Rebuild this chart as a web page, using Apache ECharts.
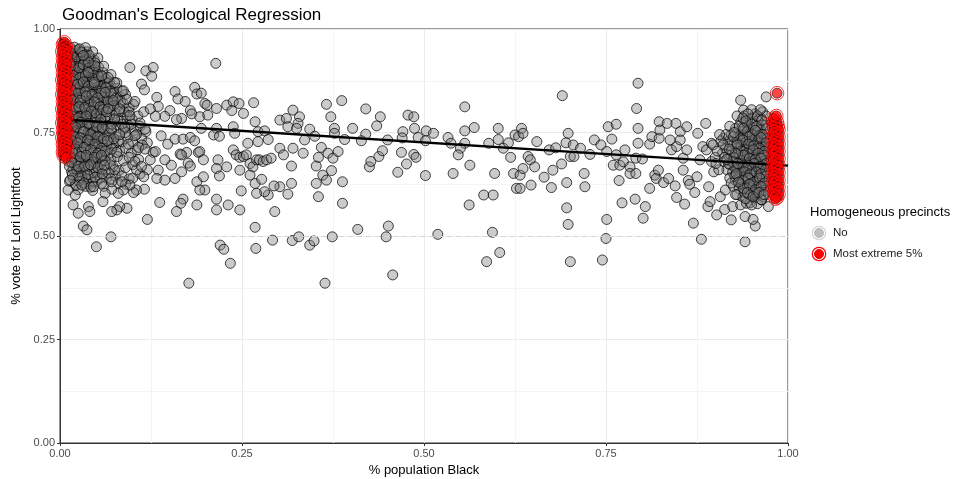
<!DOCTYPE html>
<html>
<head>
<meta charset="utf-8">
<title>Goodman's Ecological Regression</title>
<script src="https://cdn.jsdelivr.net/npm/echarts@6/dist/echarts.min.js"></script>
<style>
  html, body { margin: 0; padding: 0; background: #fff; }
  #chart { width: 958px; height: 479px; }
</style>
</head>
<body>
<div id="chart"></div>
<script>
// precincts, [share Black, vote share Lightfoot]
const leftCluster = [
  [0.014,0.955],[0.02,0.948],[0.026,0.94],[0.012,0.935],[0.018,0.93],[0.031,0.932],[0.037,0.945],[0.042,0.928],[0.024,0.922],
  [0.013,0.915],[0.021,0.91],[0.029,0.918],[0.035,0.905],[0.044,0.912],[0.051,0.9],[0.016,0.902],[0.027,0.898],[0.039,0.893],
  [0.012,0.888],[0.019,0.882],[0.025,0.876],[0.033,0.884],[0.041,0.872],[0.048,0.882],[0.055,0.874],[0.062,0.868],[0.015,0.87],[0.029,0.864],[0.037,0.858],[0.07,0.862],[0.078,0.857],
  [0.011,0.855],[0.018,0.848],[0.023,0.858],[0.031,0.843],[0.045,0.85],[0.052,0.842],[0.058,0.855],[0.066,0.84],[0.074,0.845],[0.082,0.836],[0.09,0.842],[0.014,0.838],[0.026,0.835],[0.039,0.832],
  [0.012,0.825],[0.019,0.818],[0.024,0.828],[0.033,0.815],[0.043,0.822],[0.049,0.812],[0.056,0.826],[0.063,0.816],[0.071,0.822],[0.079,0.812],[0.087,0.82],[0.095,0.81],[0.101,0.818],[0.016,0.808],[0.028,0.805],[0.038,0.8],[0.047,0.795],
  [0.011,0.795],[0.021,0.79],[0.031,0.785],[0.054,0.79],[0.061,0.8],[0.068,0.788],[0.076,0.796],[0.084,0.785],[0.092,0.792],[0.099,0.782],[0.107,0.79],[0.115,0.8],[0.014,0.778],[0.026,0.772],[0.036,0.778],[0.044,0.768],[0.058,0.775],
  [0.012,0.762],[0.019,0.755],[0.029,0.76],[0.039,0.752],[0.05,0.758],[0.064,0.765],[0.071,0.754],[0.079,0.768],[0.087,0.758],[0.094,0.766],[0.102,0.755],[0.11,0.765],[0.118,0.752],[0.015,0.745],[0.024,0.74],[0.034,0.735],[0.045,0.742],[0.056,0.738],
  [0.062,0.745],[0.069,0.732],[0.077,0.74],[0.085,0.728],[0.093,0.738],[0.1,0.728],[0.112,0.735],[0.12,0.725],[0.011,0.728],[0.019,0.72],[0.028,0.715],[0.038,0.722],[0.048,0.712],[0.058,0.72],
  [0.066,0.71],[0.074,0.718],[0.082,0.705],[0.09,0.712],[0.098,0.7],[0.106,0.708],[0.013,0.705],[0.022,0.698],[0.031,0.69],[0.041,0.698],[0.052,0.688],[0.061,0.695],[0.07,0.685],[0.079,0.692],[0.087,0.682],[0.095,0.69],
  [0.012,0.68],[0.02,0.672],[0.029,0.665],[0.037,0.675],[0.046,0.665],[0.055,0.672],[0.063,0.66],[0.073,0.668],[0.081,0.658],[0.09,0.665],[0.1,0.672],[0.016,0.655],[0.025,0.648],[0.034,0.652],[0.043,0.642],[0.053,0.648],[0.064,0.64],[0.076,0.645],
  [0.013,0.632],[0.021,0.625],[0.032,0.635],[0.04,0.625],[0.05,0.632],[0.06,0.62],[0.085,0.645],[0.095,0.638],[0.11,0.65],[0.12,0.66],
  [0.016,0.925],[0.022,0.915],[0.033,0.922],[0.017,0.895],[0.024,0.888],[0.034,0.895],[0.043,0.887],[0.02,0.865],[0.028,0.852],[0.036,0.868],[0.044,0.86],[0.05,0.866],
  [0.021,0.836],[0.034,0.828],[0.042,0.84],[0.05,0.83],[0.058,0.838],[0.017,0.815],[0.029,0.822],[0.04,0.81],[0.052,0.803],[0.023,0.8],[0.033,0.795],[0.045,0.783],
  [0.02,0.77],[0.031,0.768],[0.041,0.762],[0.053,0.77],[0.062,0.78],[0.017,0.752],[0.026,0.748],[0.037,0.742],[0.047,0.73],[0.055,0.752],[0.021,0.732],[0.032,0.726],
  [0.043,0.735],[0.053,0.725],[0.017,0.712],[0.026,0.705],[0.036,0.708],[0.046,0.702],[0.056,0.705],[0.023,0.685],[0.034,0.68],[0.044,0.685],[0.058,0.68],
  [0.018,0.662],[0.029,0.655],[0.04,0.66],[0.05,0.655],[0.068,0.7],[0.072,0.725],[0.066,0.76],[0.075,0.78],[0.068,0.81],[0.06,0.85],[0.052,0.89],[0.045,0.9],
  [0.038,0.915],[0.03,0.935],[0.085,0.77],[0.08,0.73],[0.09,0.75],[0.088,0.8],[0.083,0.825],[0.072,0.835],[0.065,0.87],[0.058,0.885],
  [0.013,0.945],[0.019,0.938],[0.025,0.95],[0.029,0.928],[0.035,0.938],[0.041,0.918],[0.047,0.925],[0.014,0.918],[0.02,0.902],[0.031,0.908],
  [0.038,0.9],[0.046,0.895],[0.053,0.908],[0.059,0.895],[0.013,0.896],[0.022,0.878],[0.03,0.89],[0.036,0.876],[0.043,0.868],[0.049,0.875],
  [0.056,0.862],[0.063,0.88],[0.068,0.872],[0.014,0.862],[0.021,0.854],[0.027,0.868],[0.033,0.856],[0.04,0.848],[0.047,0.838],[0.054,0.85],
  [0.061,0.835],[0.069,0.85],[0.076,0.832],[0.013,0.842],[0.019,0.83],[0.026,0.822],[0.032,0.835],[0.038,0.82],[0.045,0.812],[0.053,0.818],
  [0.06,0.81],[0.066,0.825],[0.074,0.815],[0.081,0.8],[0.015,0.8],[0.022,0.81],[0.028,0.79],[0.035,0.805],[0.042,0.793],[0.049,0.785],
  [0.057,0.796],[0.064,0.79],[0.071,0.77],[0.079,0.78],[0.013,0.785],[0.018,0.766],[0.024,0.778],[0.033,0.758],[0.038,0.77],[0.046,0.752],
  [0.052,0.762],[0.06,0.758],[0.067,0.748],[0.074,0.735],[0.082,0.745],[0.013,0.748],[0.02,0.738],[0.027,0.73],[0.036,0.718],[0.041,0.728],
  [0.049,0.738],[0.057,0.73],[0.064,0.72],[0.071,0.71],[0.078,0.702],[0.014,0.722],[0.022,0.71],[0.03,0.702],[0.038,0.69],[0.045,0.678],
  [0.05,0.695],[0.056,0.69],[0.062,0.682],[0.069,0.672],[0.075,0.66],[0.014,0.69],[0.021,0.682],[0.027,0.675],[0.032,0.665],[0.039,0.668],
  [0.047,0.652],[0.058,0.66],[0.067,0.652],[0.013,0.668],[0.023,0.66],[0.03,0.645],[0.036,0.638],[0.045,0.63],[0.055,0.64],[0.07,0.638],
  [0.08,0.628],[0.018,0.64],[0.026,0.632],[0.035,0.62],[0.025,0.612],[0.045,0.61],[0.09,0.625],[0.1,0.64],[0.105,0.66],[0.108,0.685],
  [0.113,0.72],[0.105,0.745],[0.098,0.77],[0.095,0.8],[0.092,0.83],[0.085,0.85],[0.078,0.87],[0.07,0.89],[0.06,0.91],[0.052,0.93],
  [0.045,0.945],[0.035,0.955],
  [0.016,0.94],[0.023,0.933],[0.028,0.945],[0.034,0.926],[0.04,0.936],[0.015,0.91],[0.026,0.906],[0.032,0.914],[0.04,0.906],[0.048,0.918],
  [0.018,0.888],[0.027,0.882],[0.035,0.888],[0.045,0.88],[0.053,0.885],[0.017,0.874],[0.024,0.866],[0.032,0.872],[0.039,0.862],[0.047,0.866],
  [0.056,0.845],[0.016,0.852],[0.025,0.845],[0.035,0.848],[0.044,0.842],[0.052,0.834],[0.017,0.828],[0.028,0.828],[0.036,0.838],[0.047,0.824],
  [0.055,0.812],[0.018,0.805],[0.026,0.812],[0.034,0.81],[0.043,0.802],[0.05,0.795],[0.059,0.805],[0.017,0.79],[0.025,0.785],[0.036,0.79],
  [0.048,0.775],[0.056,0.782],[0.016,0.772],[0.029,0.775],[0.04,0.772],[0.05,0.765],[0.058,0.762],[0.022,0.762],[0.032,0.752],[0.042,0.745],
  [0.052,0.74],[0.06,0.735],[0.018,0.742],[0.028,0.737],[0.038,0.732],[0.048,0.722],[0.057,0.712],[0.016,0.73],[0.024,0.725],[0.033,0.714],
  [0.042,0.708],[0.052,0.7],[0.062,0.705],[0.018,0.7],[0.028,0.692],[0.036,0.695],[0.047,0.69],[0.057,0.695],[0.016,0.678],[0.025,0.668],
  [0.034,0.668],[0.042,0.672],[0.052,0.665],[0.061,0.67],[0.017,0.648],[0.027,0.64],[0.038,0.648],[0.048,0.642],[0.058,0.65],[0.022,0.622],
  [0.033,0.628],[0.042,0.618],[0.065,0.73],[0.07,0.76],[0.064,0.8],[0.07,0.845],[0.063,0.858]
];

const midPoints = [
  // 0.1 - 0.2
  [0.096,0.907],[0.118,0.899],[0.128,0.907],[0.126,0.886],[0.112,0.867],[0.116,0.853],[0.103,0.825],[0.133,0.835],[0.135,0.813],[0.151,0.803],
  [0.158,0.849],[0.162,0.831],[0.172,0.825],[0.185,0.859],[0.188,0.843],[0.179,0.803],[0.181,0.795],[0.167,0.784],[0.160,0.781],[0.144,0.789],
  [0.131,0.789],[0.124,0.807],[0.139,0.742],[0.148,0.722],[0.158,0.734],[0.169,0.734],[0.179,0.738],[0.185,0.730],[0.165,0.698],[0.174,0.702],
  [0.190,0.702],[0.117,0.758],[0.110,0.773],[0.103,0.742],[0.094,0.722],[0.108,0.714],[0.117,0.710],[0.128,0.702],[0.089,0.763],[0.082,0.807],
  [0.075,0.783],[0.096,0.791],[0.087,0.851],[0.075,0.871],[0.066,0.883],[0.057,0.887],[0.048,0.911],[0.039,0.920],[0.030,0.944],[0.020,0.956],
  [0.027,0.952],[0.032,0.936],[0.039,0.895],[0.047,0.871],[0.062,0.847],[0.073,0.827],[0.066,0.807],
  [0.167,0.696],[0.176,0.676],[0.179,0.669],[0.167,0.655],[0.158,0.639],[0.153,0.671],[0.144,0.684],[0.135,0.659],[0.133,0.639],[0.144,0.635],
  [0.188,0.631],[0.188,0.575],[0.169,0.589],[0.166,0.579],[0.160,0.559],[0.137,0.581],[0.120,0.540],[0.116,0.613],[0.105,0.611],[0.101,0.605],
  [0.096,0.623],[0.087,0.611],[0.080,0.603],[0.071,0.613],[0.062,0.603],[0.092,0.567],[0.082,0.571],[0.078,0.563],[0.071,0.559],[0.039,0.571],
  [0.041,0.559],[0.018,0.575],[0.025,0.555],[0.032,0.524],[0.037,0.515],[0.050,0.474],[0.070,0.498],[0.177,0.386],[0.059,0.583],[0.011,0.611],
  [0.021,0.599],[0.103,0.680],[0.112,0.668],[0.115,0.643],[0.085,0.631],[0.071,0.631],[0.057,0.627],[0.046,0.619],[0.030,0.623],[0.014,0.635],
  [0.131,0.704],[0.124,0.684],
  // 0.19 - 0.6
  [0.214,0.917],[0.194,0.845],[0.199,0.820],[0.202,0.816],[0.215,0.808],[0.229,0.816],[0.238,0.824],[0.246,0.820],[0.236,0.803],[0.252,0.796],
  [0.266,0.822],[0.192,0.788],[0.203,0.792],[0.194,0.760],[0.215,0.760],[0.211,0.744],[0.219,0.741],[0.238,0.764],[0.240,0.748],[0.268,0.776],
  [0.272,0.752],[0.281,0.754],[0.286,0.733],[0.302,0.780],[0.311,0.784],[0.320,0.804],[0.329,0.788],[0.327,0.772],[0.313,0.764],[0.325,0.760],
  [0.343,0.758],[0.336,0.732],[0.350,0.741],[0.366,0.818],[0.387,0.827],[0.372,0.788],[0.377,0.760],[0.377,0.748],[0.391,0.733],[0.402,0.760],
  [0.420,0.807],[0.420,0.746],[0.414,0.730],[0.435,0.766],[0.440,0.788],[0.450,0.732],[0.471,0.752],[0.470,0.737],[0.478,0.792],[0.486,0.788],
  [0.487,0.760],[0.492,0.738],[0.503,0.754],[0.513,0.748],[0.502,0.730],[0.533,0.738],[0.537,0.724],[0.556,0.812],[0.569,0.762],[0.556,0.754],
  [0.556,0.724],[0.550,0.712],[0.547,0.696],[0.589,0.724],[0.602,0.760],[0.602,0.733],[0.192,0.704],[0.197,0.684],[0.217,0.684],[0.215,0.663],
  [0.229,0.667],[0.219,0.645],[0.238,0.708],[0.242,0.696],[0.247,0.690],[0.252,0.692],[0.256,0.696],[0.261,0.675],[0.265,0.667],[0.270,0.684],
  [0.274,0.684],[0.279,0.680],[0.284,0.684],[0.290,0.688],[0.258,0.724],[0.272,0.728],[0.302,0.712],[0.307,0.696],[0.320,0.712],[0.318,0.669],
  [0.334,0.700],[0.352,0.669],[0.355,0.690],[0.359,0.714],[0.368,0.700],[0.375,0.688],[0.382,0.704],[0.361,0.647],[0.366,0.635],[0.373,0.658],
  [0.388,0.631],[0.352,0.627],[0.355,0.595],[0.318,0.627],[0.313,0.601],[0.302,0.619],[0.294,0.621],[0.286,0.599],[0.281,0.607],[0.270,0.603],
  [0.268,0.627],[0.277,0.637],[0.261,0.647],[0.247,0.659],[0.249,0.609],[0.215,0.563],[0.215,0.589],[0.199,0.611],[0.192,0.611],[0.197,0.643],
  [0.231,0.575],[0.247,0.563],[0.295,0.559],[0.268,0.521],[0.269,0.470],[0.292,0.490],[0.319,0.489],[0.328,0.498],[0.343,0.478],[0.349,0.488],
  [0.374,0.498],[0.388,0.579],[0.409,0.516],[0.451,0.524],[0.448,0.498],[0.457,0.406],[0.364,0.386],[0.220,0.478],[0.225,0.468],[0.234,0.434],
  [0.425,0.667],[0.427,0.680],[0.438,0.692],[0.443,0.706],[0.464,0.654],[0.469,0.702],[0.476,0.674],[0.486,0.697],[0.489,0.690],[0.502,0.646],
  [0.519,0.504],[0.540,0.651],[0.563,0.671],[0.562,0.575],[0.582,0.599],[0.595,0.599],[0.594,0.509],[0.586,0.438],[0.604,0.460],[0.597,0.651],
  // 0.6 - 0.95
  [0.609,0.712],[0.616,0.725],[0.619,0.690],[0.623,0.651],[0.627,0.615],[0.632,0.615],[0.632,0.647],[0.636,0.663],[0.643,0.692],[0.646,0.684],
  [0.652,0.667],[0.625,0.744],[0.630,0.740],[0.634,0.760],[0.636,0.748],[0.647,0.623],[0.655,0.728],[0.665,0.642],[0.672,0.708],[0.675,0.617],
  [0.677,0.659],[0.681,0.713],[0.690,0.839],[0.698,0.748],[0.695,0.725],[0.689,0.674],[0.696,0.629],[0.701,0.692],[0.706,0.692],[0.705,0.720],
  [0.715,0.712],[0.721,0.619],[0.720,0.651],[0.728,0.697],[0.734,0.732],[0.743,0.720],[0.751,0.704],[0.753,0.764],[0.758,0.734],[0.764,0.770],
  [0.764,0.696],[0.760,0.671],[0.769,0.671],[0.768,0.634],[0.774,0.679],[0.776,0.708],[0.783,0.667],[0.783,0.651],[0.791,0.651],[0.791,0.688],
  [0.800,0.686],[0.794,0.869],[0.792,0.808],[0.794,0.760],[0.794,0.724],[0.790,0.589],[0.772,0.580],[0.804,0.571],[0.801,0.543],[0.810,0.615],
  [0.810,0.722],[0.813,0.740],[0.817,0.647],[0.819,0.639],[0.822,0.659],[0.823,0.776],[0.823,0.736],[0.824,0.756],[0.829,0.629],[0.834,0.772],
  [0.836,0.639],[0.838,0.732],[0.840,0.708],[0.845,0.621],[0.846,0.772],[0.847,0.716],[0.847,0.593],[0.852,0.752],[0.852,0.732],[0.856,0.688],
  [0.856,0.659],[0.858,0.577],[0.861,0.764],[0.861,0.708],[0.863,0.634],[0.865,0.625],[0.870,0.531],[0.872,0.605],[0.875,0.643],[0.876,0.748],
  [0.879,0.684],[0.881,0.492],[0.883,0.716],[0.887,0.772],[0.888,0.708],[0.890,0.571],[0.891,0.619],[0.893,0.583],[0.895,0.680],[0.895,0.724],
  [0.898,0.655],[0.902,0.551],[0.907,0.595],[0.911,0.736],[0.914,0.611],[0.913,0.564],[0.922,0.539],[0.924,0.571],[0.935,0.828],[0.939,0.804],
  [0.941,0.486],[0.941,0.547],[0.696,0.568],[0.698,0.528],[0.701,0.438],[0.745,0.442],[0.750,0.494],[0.751,0.540]
];

const rightCluster = [
  [0.94,0.79],[0.948,0.782],[0.955,0.795],[0.962,0.786],[0.935,0.775],[0.944,0.768],[0.952,0.772],[0.96,0.766],[0.968,0.775],[0.928,0.76],
  [0.938,0.752],[0.946,0.758],[0.954,0.748],[0.962,0.755],[0.97,0.745],[0.922,0.745],[0.931,0.738],[0.94,0.742],[0.949,0.735],[0.957,0.74],
  [0.965,0.732],[0.918,0.728],[0.926,0.722],[0.935,0.728],[0.944,0.72],[0.952,0.725],[0.96,0.718],[0.968,0.722],[0.914,0.712],[0.922,0.705],
  [0.93,0.712],[0.939,0.704],[0.947,0.71],[0.955,0.702],[0.963,0.708],[0.971,0.7],[0.918,0.695],[0.926,0.688],[0.934,0.694],[0.942,0.686],
  [0.95,0.692],[0.958,0.685],[0.966,0.69],[0.912,0.68],[0.92,0.672],[0.929,0.678],[0.937,0.67],[0.945,0.676],[0.953,0.668],[0.961,0.674],
  [0.969,0.666],[0.916,0.66],[0.924,0.654],[0.933,0.66],[0.941,0.652],[0.949,0.658],[0.957,0.65],[0.965,0.656],[0.92,0.64],[0.928,0.634],
  [0.937,0.64],[0.945,0.632],[0.953,0.638],[0.961,0.63],[0.969,0.636],[0.925,0.62],[0.933,0.614],[0.941,0.62],[0.949,0.612],[0.957,0.618],
  [0.965,0.61],[0.93,0.6],[0.938,0.594],[0.946,0.6],[0.954,0.592],[0.962,0.598],[0.948,0.58],[0.958,0.578],
  [0.945,0.745],[0.953,0.76],[0.96,0.742],[0.942,0.73],[0.95,0.715],[0.958,0.73],[0.966,0.715],[0.94,0.715],[0.948,0.698],[0.956,0.715],
  [0.964,0.698],[0.943,0.695],[0.951,0.68],[0.96,0.695],[0.967,0.68],[0.94,0.68],[0.948,0.665],[0.956,0.678],[0.964,0.662],[0.944,0.66],
  [0.952,0.645],[0.96,0.662],[0.967,0.645],[0.941,0.645],[0.949,0.628],[0.958,0.645],[0.965,0.625],[0.945,0.615],[0.953,0.605],[0.962,0.615],
  [0.935,0.685],[0.933,0.7],[0.93,0.66],[0.935,0.745],[0.925,0.69],[0.91,0.7],[0.908,0.73],[0.905,0.66],[0.9,0.69],[0.897,0.72],
  [0.915,0.745],[0.92,0.765],[0.93,0.79],[0.95,0.805],[0.965,0.8],[0.97,0.79],[0.972,0.76],[0.973,0.73],[0.972,0.71],[0.972,0.68],
  [0.972,0.65],[0.97,0.62],[0.966,0.595],[0.935,0.575],[0.928,0.6],
  [0.970,0.836],[0.955,0.524],[0.952,0.540],[0.973,0.571],[0.964,0.587],[0.943,0.579],[0.950,0.575],
  [0.943,0.775],[0.951,0.785],[0.958,0.778],[0.965,0.768],[0.937,0.762],[0.944,0.752],[0.951,0.745],[0.958,0.752],[0.965,0.745],[0.971,0.735],
  [0.934,0.735],[0.941,0.725],[0.948,0.728],[0.955,0.735],[0.962,0.725],[0.969,0.715],[0.936,0.718],[0.943,0.708],[0.951,0.7],[0.959,0.708],
  [0.966,0.7],[0.938,0.69],[0.945,0.682],[0.953,0.69],[0.961,0.682],[0.968,0.69],[0.936,0.675],[0.943,0.668],[0.951,0.662],[0.959,0.668],
  [0.966,0.672],[0.934,0.648],[0.942,0.638],[0.95,0.648],[0.958,0.635],[0.965,0.64],[0.971,0.655],[0.936,0.625],[0.944,0.622],[0.952,0.62],
  [0.96,0.622],[0.968,0.61],[0.94,0.605],[0.948,0.598],[0.957,0.603],[0.963,0.588],[0.942,0.59],[0.924,0.68],[0.927,0.665],[0.921,0.718],
  [0.93,0.725],[0.925,0.74],[0.933,0.765],[0.927,0.645],[0.922,0.628],[0.918,0.675],[0.913,0.69],[0.911,0.72],[0.906,0.745],[0.903,0.705],
  [0.901,0.675],[0.958,0.79],[0.945,0.795],[0.938,0.785],[0.962,0.805],
  [0.942,0.778],[0.95,0.77],[0.957,0.765],[0.964,0.78],[0.939,0.76],[0.947,0.74],[0.955,0.755],[0.963,0.738],[0.97,0.725],[0.938,0.732],
  [0.946,0.722],[0.953,0.718],[0.961,0.712],[0.968,0.705],[0.936,0.705],[0.944,0.7],[0.952,0.708],[0.959,0.7],[0.967,0.695],[0.939,0.695],
  [0.947,0.688],[0.955,0.684],[0.963,0.688],[0.97,0.675],[0.938,0.665],[0.946,0.67],[0.954,0.675],[0.962,0.668],[0.969,0.66],[0.94,0.655],
  [0.948,0.65],[0.956,0.655],[0.963,0.65],[0.97,0.645],[0.937,0.635],[0.945,0.64],[0.953,0.63],[0.961,0.64],[0.968,0.628],[0.939,0.615],
  [0.947,0.625],[0.955,0.612],[0.963,0.62],[0.944,0.605],[0.952,0.595],[0.96,0.605],[0.967,0.6],[0.93,0.72],[0.928,0.7],[0.931,0.675],
  [0.929,0.65],[0.932,0.63],[0.926,0.75],[0.919,0.71],[0.916,0.685]
];

// most extreme 5% homogeneous precincts
const extremeLeft = [
  [0.006,0.968],[0.004,0.963],[0.008,0.959],[0.005,0.955],[0.009,0.95],[0.003,0.946],[0.007,0.942],[0.005,0.937],[0.01,0.933],[0.004,0.929],
  [0.007,0.924],[0.005,0.92],[0.009,0.916],[0.003,0.911],[0.007,0.907],[0.005,0.903],[0.01,0.898],[0.004,0.894],[0.008,0.89],[0.005,0.885],
  [0.009,0.881],[0.003,0.877],[0.007,0.872],[0.005,0.868],[0.01,0.864],[0.004,0.859],[0.008,0.855],[0.005,0.851],[0.009,0.846],[0.003,0.842],
  [0.007,0.838],[0.005,0.833],[0.01,0.829],[0.004,0.825],[0.008,0.82],[0.005,0.816],[0.009,0.812],[0.003,0.807],[0.007,0.803],[0.005,0.799],
  [0.01,0.794],[0.004,0.79],[0.008,0.786],[0.005,0.781],[0.009,0.777],[0.003,0.773],[0.007,0.768],[0.005,0.764],[0.01,0.76],[0.004,0.755],
  [0.008,0.751],[0.005,0.747],[0.009,0.742],[0.003,0.738],[0.007,0.734],[0.005,0.729],[0.01,0.725],[0.004,0.721],[0.008,0.716],[0.005,0.712],
  [0.009,0.708],[0.004,0.703],[0.007,0.699],[0.005,0.694],[0.008,0.69]
];
const extremeRight = [
  [0.982,0.778],[0.985,0.774],[0.98,0.77],[0.986,0.765],[0.981,0.761],[0.987,0.757],[0.98,0.752],[0.985,0.748],[0.982,0.744],[0.987,0.739],
  [0.98,0.735],[0.985,0.731],[0.982,0.726],[0.987,0.722],[0.98,0.718],[0.985,0.713],[0.982,0.709],[0.987,0.705],[0.98,0.7],[0.985,0.696],
  [0.982,0.692],[0.987,0.687],[0.98,0.683],[0.985,0.679],[0.982,0.674],[0.987,0.67],[0.98,0.666],[0.985,0.661],[0.982,0.657],[0.987,0.653],
  [0.98,0.648],[0.985,0.644],[0.982,0.64],[0.987,0.635],[0.98,0.631],[0.985,0.627],[0.982,0.622],[0.987,0.618],[0.98,0.614],[0.985,0.609],
  [0.982,0.605],[0.987,0.601],[0.981,0.597],[0.985,0.593],[0.983,0.59],[0.985,0.845],[0.98,0.784],[0.984,0.79]
];

// fitted regression line
const fitLine = [[0, 0.782], [1, 0.67]];
const refLevel = 0.5;

const grayPoints = leftCluster.concat(midPoints, rightCluster);
const extremePoints = extremeLeft.concat(extremeRight);

const chart = echarts.init(document.getElementById('chart'));
const font = 'Liberation Sans, Arial, Helvetica, sans-serif';

function axisBase() {
  return {
    type: 'value', min: 0, max: 1, interval: 0.25,
    axisLine: { show: true, onZero: false, lineStyle: { color: '#333', width: 1 } },
    axisTick: { show: true, length: 3, lineStyle: { color: '#333' } },
    axisLabel: { color: '#4d4d4d', fontSize: 11, fontFamily: font, margin: 5, formatter: v => v.toFixed(2) },
    splitLine: { show: true, lineStyle: { color: '#ebebeb', width: 1 } },
    minorTick: { show: false, splitNumber: 2 },
    minorSplitLine: { show: true, lineStyle: { color: '#f4f4f4', width: 1 } },
    nameLocation: 'middle',
    nameTextStyle: { color: '#000', fontSize: 13, fontFamily: font }
  };
}

const option = {
  animation: false,
  backgroundColor: '#fff',
  title: {
    text: "Goodman's Ecological Regression",
    left: 57, top: 2,
    textStyle: { color: '#000', fontSize: 17, fontWeight: 'normal', fontFamily: font }
  },
  grid: {
    left: 60, right: 170, top: 29, bottom: 36,
    outerBoundsMode: 'none',
    show: true, borderColor: '#333', borderWidth: 1, backgroundColor: 'transparent'
  },
  xAxis: Object.assign(axisBase(), { name: '% population Black', nameGap: 17 }),
  yAxis: Object.assign(axisBase(), { name: '% vote for Lori Lightfoot', nameGap: 34 }),
  series: [
    {
      type: 'line', data: [], z: 1, silent: true,
      markLine: {
        silent: true, symbol: 'none', label: { show: false },
        lineStyle: { color: '#d4d4d4', type: [5, 4], width: 1 },
        data: [{ yAxis: refLevel }]
      }
    },
    {
      name: 'No', type: 'scatter', data: grayPoints, z: 2,
      symbol: 'circle', symbolSize: 10,
      itemStyle: { color: 'rgba(125,125,125,0.5)', borderColor: 'rgba(0,0,0,0.9)', borderWidth: 1 }
    },
    {
      type: 'line', data: fitLine, z: 3, symbol: 'none', silent: true,
      lineStyle: { color: '#000', width: 2.3 }
    },
    {
      name: 'Most extreme 5%', type: 'scatter', data: extremePoints, z: 4,
      symbol: 'circle', symbolSize: 10,
      itemStyle: { color: 'rgba(255,0,0,0.9)', borderColor: 'rgba(0,0,0,0.75)', borderWidth: 1 }
    },
    {
      type: 'scatter', data: extremePoints, z: 5, silent: true,
      symbol: 'circle', symbolSize: 13.5,
      itemStyle: { color: 'rgba(0,0,0,0)', borderColor: '#ff0000', borderWidth: 1 }
    }
  ],
  graphic: [
    { type: 'text', left: 810, top: 206, style: { text: 'Homogeneous precincts', fill: '#000', font: '13px ' + font } },
    { type: 'circle', shape: { cx: 819, cy: 233, r: 6.7 }, style: { fill: '#fff', stroke: '#d3d3d3', lineWidth: 1.2 } },
    { type: 'circle', shape: { cx: 819, cy: 233, r: 4.5 }, style: { fill: '#bebebe', stroke: '#b8b8b8', lineWidth: 1 } },
    { type: 'text', left: 833, top: 227, style: { text: 'No', fill: '#1a1a1a', font: '11.5px ' + font } },
    { type: 'circle', shape: { cx: 819, cy: 254, r: 6.7 }, style: { fill: '#fff', stroke: '#ff0000', lineWidth: 1.2 } },
    { type: 'circle', shape: { cx: 819, cy: 254, r: 4.5 }, style: { fill: '#ff0000', stroke: '#e00000', lineWidth: 1 } },
    { type: 'text', left: 833, top: 248, style: { text: 'Most extreme 5%', fill: '#1a1a1a', font: '11.5px ' + font } }
  ]
};

chart.setOption(option);
</script>
</body>
</html>
